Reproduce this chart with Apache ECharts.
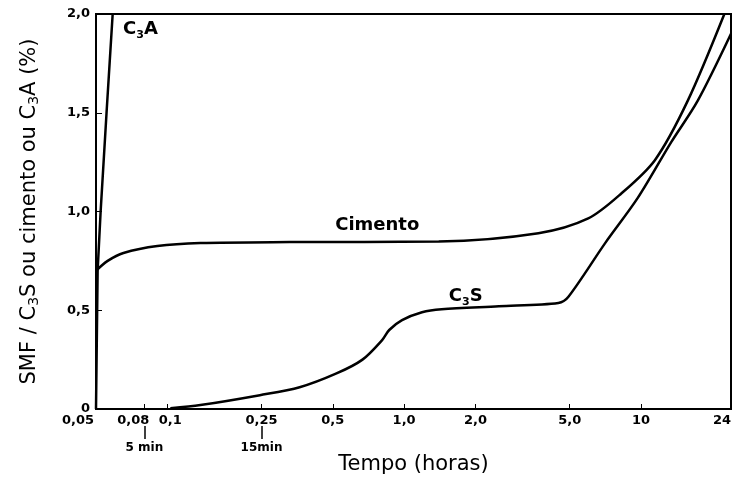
<!DOCTYPE html>
<html>
<head>
<meta charset="utf-8">
<script src="https://cdn.jsdelivr.net/npm/echarts@6/dist/echarts.min.js"></script>
<style>
    html, body { margin: 0; padding: 0; background: #fff; }
    #main { width: 734px; height: 477px; }
</style>
</head>
<body>
<div id="main"></div>
<script>
    // tempo (horas) e valores
    var tickVals = [0.05, 0.08, 0.1, 0.25, 0.5, 1, 2, 5, 10, 24];
    var tickLabels = ['0,05', '0,08', '0,1', '0,25', '0,5', '1,0', '2,0', '5,0', '10', '24'];
    var minVals = [0.08, 0.25];
    var minLabels = ['5 min', '15min'];

    var c3aTime = [0.05, 0.0508, 0.0523, 0.0554, 0.0588];
    var c3aVal = [0, 0.7, 1.0, 1.5, 2.0];

    var cimTime = [0.05, 0.056, 0.0653, 0.0908, 0.138, 0.329, 1.40, 3.69, 5.99, 8.24, 11.45, 15.75, 22.5];
    var cimVal = [0.70, 0.75, 0.79, 0.825, 0.84, 0.845, 0.848, 0.89, 0.965, 1.09, 1.26, 1.56, 2.0];

    var c3sTime = [0.103, 0.138, 0.246, 0.362, 0.518, 0.667, 0.809, 0.865, 0.98, 1.19, 1.44, 2.51, 4.48, 4.93, 7.06, 9.71, 13.4, 17.35, 24];
    var c3sVal = [0.004, 0.02, 0.07, 0.11, 0.18, 0.25, 0.35, 0.40, 0.45, 0.49, 0.505, 0.52, 0.537, 0.567, 0.84, 1.07, 1.35, 1.56, 1.9];

    var font = 'DejaVu Sans';
    var lg = function(v) { return Math.log10(v); };
    var pairs = function(t, v) {
        return t.map(function(x, i) { return [lg(x), v[i]]; });
    };
    var nearestIdx = function(pos, v) {
        var best = 0;
        for (var i = 0; i < pos.length; i++) {
            if (Math.abs(pos[i] - v) < Math.abs(pos[best] - v)) best = i;
        }
        return best;
    };
    var tickPos = tickVals.map(lg);
    var minPos = minVals.map(lg);

    // deslocamento horizontal de alguns rótulos, como no original
    var lblBase = { fontFamily: font, fontSize: 13, fontWeight: 'bold', color: '#000' };
    var lblRich = {
        n: lblBase,
        a: Object.assign({ padding: [0, 36, 0, 0] }, lblBase),
        b: Object.assign({ padding: [0, 22, 0, 0] }, lblBase),
        c: Object.assign({ padding: [0, 0, 0, 6] }, lblBase),
        d: Object.assign({ padding: [0, 18, 0, 0] }, lblBase)
    };
    var lblStyle = { '0,05': 'a', '0,08': 'b', '0,1': 'c', '24': 'd' };

    var sub = {
        t: { fontFamily: font, fontSize: 18, fontWeight: 'bold', color: '#000' },
        s: { fontFamily: font, fontSize: 11, fontWeight: 'bold', color: '#000', padding: [11, 0, 0, 0] }
    };
    var note = function(t, v, text) {
        return {
            symbol: 'circle',
            symbolSize: 2,
            silent: true,
            itemStyle: { color: 'rgba(0,0,0,0)' },
            data: [{
                coord: [lg(t), v],
                label: {
                    show: true,
                    position: 'inside',
                    formatter: text,
                    rich: sub
                }
            }]
        };
    };

    var myChart = echarts.init(document.getElementById('main'));
    var option = {
        animation: false,
        grid: {
            left: 96, right: 3, top: 14, bottom: 68,
            outerBoundsMode: 'none',
            show: true, borderColor: '#000', borderWidth: 2
        },
        xAxis: [{
            type: 'value',
            min: lg(0.05),
            max: lg(24),
            name: 'Tempo (horas)',
            nameLocation: 'middle',
            nameGap: 45,
            nameTextStyle: { fontFamily: font, fontSize: 21, color: '#000' },
            axisLine: { onZero: false, lineStyle: { color: '#000', width: 2 } },
            splitLine: { show: false },
            axisTick: { inside: true, length: 5, customValues: tickPos, lineStyle: { color: '#000' } },
            axisLabel: {
                customValues: tickPos,
                formatter: function(v) {
                    var s = tickLabels[nearestIdx(tickPos, v)];
                    return '{' + (lblStyle[s] || 'n') + '|' + s + '}';
                },
                rich: lblRich,
                margin: 5,
                fontFamily: font, fontSize: 13, fontWeight: 'bold', color: '#000'
            }
        }, {
            type: 'value',
            position: 'bottom',
            offset: 17,
            min: lg(0.05),
            max: lg(24),
            axisLine: { show: false, onZero: false },
            splitLine: { show: false },
            axisTick: { show: true, length: 13, customValues: minPos, lineStyle: { color: '#000', width: 1.5 } },
            axisLabel: {
                customValues: minPos,
                formatter: function(v) {
                    return minLabels[nearestIdx(minPos, v)];
                },
                margin: 16,
                fontFamily: font, fontSize: 12, fontWeight: 'bold', color: '#000'
            }
        }],
        yAxis: {
            type: 'value',
            min: 0,
            max: 2,
            interval: 0.5,
            name: 'SMF / C{s|3}S ou cimento ou C{s|3}A (%)',
            nameLocation: 'middle',
            nameGap: 56,
            nameRotate: 90,
            nameTextStyle: {
                fontFamily: font, fontSize: 21, color: '#000',
                rich: {
                    s: { fontFamily: font, fontSize: 14, color: '#000', padding: [0, 0, -9, 0] }
                }
            },
            axisLine: { onZero: false, lineStyle: { color: '#000', width: 2 } },
            splitLine: { show: false },
            axisTick: { inside: true, length: 6, lineStyle: { color: '#000' } },
            axisLabel: {
                margin: 6,
                fontFamily: font, fontSize: 13, fontWeight: 'bold', color: '#000',
                formatter: function(v) {
                    return v === 0 ? '0' : v.toFixed(1).replace('.', ',');
                }
            }
        },
        series: [{
            name: 'C3A',
            type: 'line',
            data: pairs(c3aTime, c3aVal),
            showSymbol: false,
            lineStyle: { color: '#000', width: 2.5 },
            markPoint: note(0.077, 1.92, '{t|C}{s|3}{t|A}')
        }, {
            name: 'Cimento',
            type: 'line',
            smooth: 0.3,
            data: pairs(cimTime, cimVal),
            showSymbol: false,
            lineStyle: { color: '#000', width: 2.5 },
            markPoint: note(0.77, 0.93, '{t|Cimento}')
        }, {
            name: 'C3S',
            type: 'line',
            smooth: 0.3,
            data: pairs(c3sTime, c3sVal),
            showSymbol: false,
            lineStyle: { color: '#000', width: 2.5 },
            markPoint: note(1.82, 0.57, '{t|C}{s|3}{t|S}')
        }]
    };
    myChart.setOption(option);
</script>
</body>
</html>
